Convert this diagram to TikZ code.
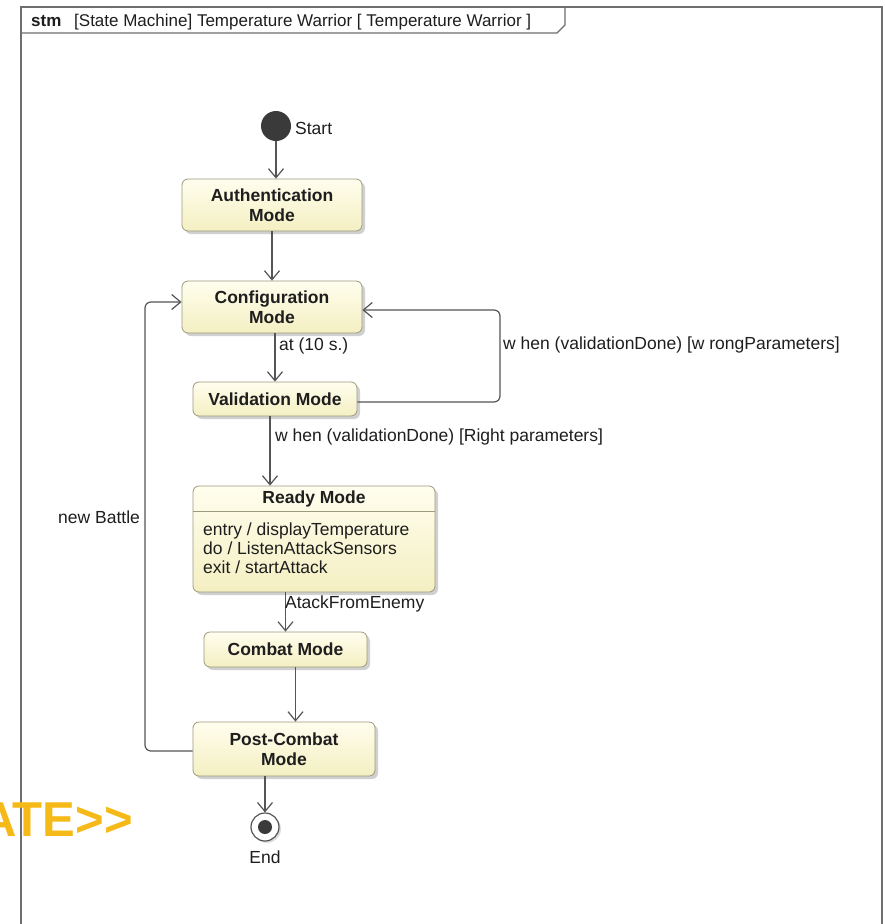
\documentclass[tikz,border=0pt]{standalone}
\usepackage{fontspec}
\setmainfont{Liberation Sans}
\usetikzlibrary{arrows.meta,shadows,calc}
\definecolor{boxtop}{HTML}{FFFEEE}
\definecolor{boxbot}{HTML}{F4EFC2}
\definecolor{boxline}{HTML}{9C9A7E}
\definecolor{lineg}{HTML}{555555}
\definecolor{framec}{HTML}{6E6E6E}
\definecolor{txt}{HTML}{1E1E1E}
\definecolor{startc}{HTML}{3A3A3A}
\definecolor{wm}{RGB}{246,186,24}
\begin{document}
\begin{tikzpicture}[x=1pt,y=-1pt,
  every node/.style={font=\fontsize{17.5}{19}\selectfont, text=txt},
  state/.style={draw=boxline, line width=0.8pt, rounded corners=6pt, top color=boxtop, bottom color=boxbot, inner sep=0pt, align=center, font=\fontsize{17.5}{20}\selectfont\bfseries, drop shadow={shadow xshift=3pt, shadow yshift=-3pt, fill=black!30, opacity=0.6}},
  tr/.style={draw=lineg, line width=1.2pt, -{Straight Barb[length=9pt,width=15pt,line width=1.2pt]}},
  lbl/.style={anchor=west, inner sep=0pt},
  body/.style={anchor=base west, inner sep=0pt}
]
\useasboundingbox (0,0) rectangle (884,924);
\fill[white] (0,0) rectangle (884,924);
% frame
\draw[framec, line width=1.5pt] (21,930) -- (21,7) -- (882,7) -- (882,930);
\draw[framec, line width=1.2pt] (21,33) -- (557,33) -- (565,25) -- (565,7);
\node[anchor=base west, inner sep=0pt, font=\fontsize{17}{19}\selectfont\bfseries] (stm) at (31,26) {stm};
\node[anchor=base west, inner sep=0pt, font=\fontsize{17}{19}\selectfont] (title) at (74,26) {[State Machine] Temperature Warrior [ Temperature Warrior ]};

% watermark
\node[anchor=base east, inner sep=0pt, text=wm, font=\fontsize{49}{49}\selectfont\bfseries] (wmark) at (133,836) {ATE>{}>};

% start
\node[circle, fill=startc, minimum size=30pt, inner sep=0pt] (start) at (276,126) {};
\node[lbl] (startl) at (295,128) {Start};

% states
\node[state, minimum width=180pt, minimum height=52pt] (auth) at (272,205) {Authentication\\Mode};
\node[state, minimum width=180pt, minimum height=52pt] (config) at (272,307) {Configuration\\Mode};
\node[state, minimum width=164pt, minimum height=34pt] (val) at (275,399) {Validation Mode};
\node[state, minimum width=242pt, minimum height=106pt] (ready) at (314,539) {};
\draw[boxline, line width=0.8pt] ($(ready.north west)+(0,26)$) -- ($(ready.north east)+(0,26)$);
\node[inner sep=0pt, font=\fontsize{17.5}{20}\selectfont\bfseries] (readyt) at (314,499) {Ready Mode};
\node[body] (rb1) at (203,535) {entry / displayTemperature};
\node[body] (rb2) at (203,554) {do / ListenAttackSensors};
\node[body] (rb3) at (203,573) {exit / startAttack};
\node[state, minimum width=163pt, minimum height=35pt] (combat) at (285.5,649.5) {Combat Mode};
\node[state, minimum width=182pt, minimum height=54pt] (post) at (284,749) {Post-Combat\\Mode};

% end
\node[circle, draw=lineg, fill=white, line width=1.2pt, minimum size=28pt, inner sep=0pt, drop shadow={shadow xshift=2pt, shadow yshift=-2pt, fill=black!25, opacity=0.5}] (end) at (265,827) {};
\fill[startc] (end.center) circle (7);
\node (endl) at (265,857) {End};

% transitions
\draw[tr] (start.south) -- (start.south |- auth.north);
\draw[tr] (auth.south) -- (config.north);
\draw[tr] (config.south -| val.north) -- (val.north);
\node[lbl] (l1) at (279,346) {at (10 s.)};
\coordinate (wr) at (500,360);
\draw[tr, rounded corners=6pt] ([yshift=-3pt]val.east) -| (wr) |- ([yshift=-3pt]config.east);
\node[lbl] (l2) at (503,345) {w hen (validationDone) [w rongParameters]};
\draw[tr] ([xshift=-5pt]val.south) -- ([xshift=-5pt]val.south |- ready.north);
\node[lbl] (l3) at (275,437) {w hen (validationDone) [Right parameters]};
\draw[tr] (ready.south -| combat.north) -- (combat.north);
\node[lbl] (l4) at (285,604) {AtackFromEnemy};
\draw[tr] ([xshift=10pt]combat.south) -- ([xshift=10pt]combat.south |- post.north);
\draw[tr] (post.south -| end.north) -- (end.north);
\coordinate (nb) at (145,500);
\draw[tr, rounded corners=6pt] ([yshift=-2pt]post.west) -| (nb) |- ([yshift=5pt]config.west);
\node[lbl] (l5) at (58,517) {new Battle};
\end{tikzpicture}
\end{document}
